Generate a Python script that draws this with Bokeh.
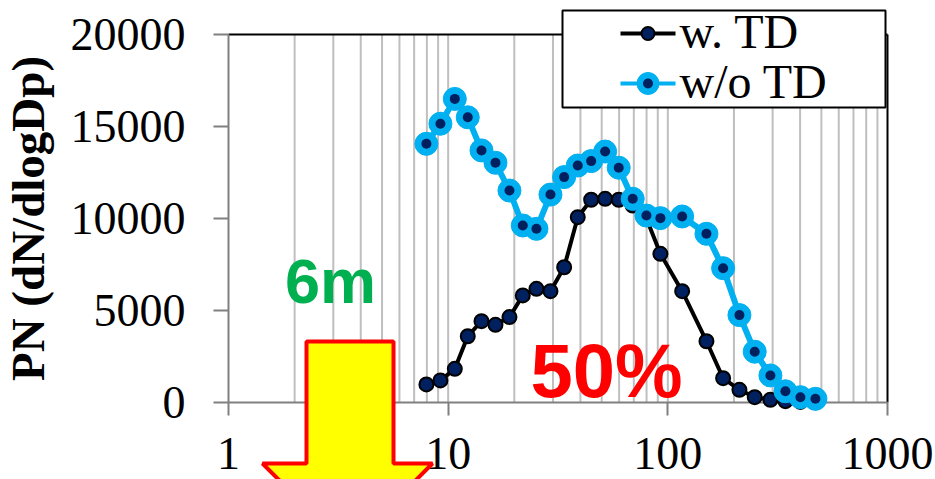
from bokeh.plotting import figure
from bokeh.models import (Range1d, FixedTicker, BasicTickFormatter,
                          PolyAnnotation, Label, BoxAnnotation, LinearAxis, LogAxis)
from bokeh.embed import file_html
from bokeh.resources import INLINE

# Particle diameter (nm) and number size distributions
diameter = [7.96, 9.22, 10.72, 12.28, 14.18, 16.42, 19.01, 21.86, 25.23, 29.22,
            33.73, 38.90, 44.77, 51.83, 59.77, 69.2, 79.9, 92.5, 116.2, 149.9,
            178.5, 211.8, 248.6, 293.1, 343.0, 401.4, 469.7]
pn_with_td = [980, 1200, 1830, 3600, 4420, 4220, 4640, 5820, 6180, 6050,
              7350, 10070, 11020, 11070, 11020, 10700, 10000, 8080, 6050, 3330,
              1320, 690, 290, 150, 70, 30, 10]
pn_without_td = [14060, 15150, 16500, 15500, 13700, 13030, 11520, 9620, 9440, 11300,
                 12250, 12880, 13120, 13640, 12760, 11070, 10160, 10020, 10110, 9170,
                 7300, 4750, 2760, 1470, 610, 290, 200]

series_names = ["w. TD", "w/o TD"]
x_ticks = [1, 10, 100, 1000]
x_tick_labels = ["1", "10", "100", "1000"]
y_ticks = [0, 5000, 10000, 15000, 20000]
y_tick_labels = ["0", "5000", "10000", "15000", "20000"]
x_minor = [m * 10 ** k for k in range(3) for m in range(2, 10)]

NAVY = "#002060"
SKY = "#00B0F0"
SERIF = "Liberation Serif"

# canvas geometry: the plotting frame fills the page, the data box sits inside it
W, H = 935, 479
BOX_L, BOX_R, BOX_T, BOX_B = 228, 887, 34, 402
X_LO, X_HI = 1, 1000
Y_LO, Y_HI = 0, 20000
px_per_decade = (BOX_R - BOX_L) / 3
val_per_px = (Y_HI - Y_LO) / (BOX_B - BOX_T)
x_range = Range1d(10 ** (-BOX_L / px_per_decade), 10 ** ((W - BOX_L) / px_per_decade))
y_range = Range1d(Y_LO - (H - BOX_B) * val_per_px, Y_HI + BOX_T * val_per_px)


def sx_to_x(sx):
    return 10 ** ((sx - BOX_L) / px_per_decade)


def sy_to_y(sy):
    return (BOX_B - sy) * val_per_px


p = figure(width=W, height=H, x_axis_type="log", x_range=x_range, y_range=y_range,
           x_axis_location=None, y_axis_location=None,
           output_backend="svg", toolbar_location=None, min_border=0)
p.title.visible = False
p.outline_line_color = None
p.background_fill_color = "white"
p.border_fill_color = "white"
for g in p.grid:
    g.visible = False

# vertical grid lines inside the data box
grid_x = sorted(x_minor + [10, 100])
p.segment(x0=grid_x, y0=[Y_LO] * len(grid_x), x1=grid_x, y1=[Y_HI] * len(grid_x),
          line_color="#BFBFBF", line_width=2, level="underlay")
# top and right border of the data box
p.segment(x0=[X_LO, X_HI], y0=[Y_HI, Y_LO], x1=[X_HI, X_HI], y1=[Y_HI, Y_HI],
          line_color="black", line_width=2, level="underlay")

# axes pinned to the data box
xaxis = LogAxis(ticker=FixedTicker(ticks=x_ticks), formatter=BasicTickFormatter(),
                major_label_overrides=dict(zip(x_ticks, x_tick_labels)),
                fixed_location=Y_LO, bounds=(X_LO, X_HI))
yaxis = LinearAxis(ticker=FixedTicker(ticks=y_ticks),
                   formatter=BasicTickFormatter(use_scientific=False),
                   major_label_overrides=dict(zip(y_ticks, y_tick_labels)),
                   fixed_location=X_LO, bounds=(Y_LO, Y_HI))
for ax in (xaxis, yaxis):
    ax.level = "underlay"
    ax.axis_line_color = "#808080"
    ax.axis_line_width = 2
    ax.major_tick_line_color = "#808080"
    ax.major_tick_line_width = 2
    ax.major_tick_in = 0
    ax.minor_tick_line_color = None
    ax.major_label_text_font = SERIF
    ax.major_label_text_font_size = "46px"
    ax.major_label_text_color = "black"
xaxis.major_tick_out = 13
xaxis.major_label_standoff = 22
yaxis.major_tick_out = 15
yaxis.major_label_standoff = 28
yaxis.axis_label = "PN (dN/dlogDp)"
yaxis.axis_label_text_font = SERIF
yaxis.axis_label_text_font_style = "bold"
yaxis.axis_label_text_font_size = "47px"
yaxis.axis_label_text_color = "black"
yaxis.axis_label_standoff = 14
p.add_layout(xaxis, "below")
p.add_layout(yaxis, "left")

# legend frame (below the legend glyphs, above grid and border)
p.add_layout(BoxAnnotation(left=562, right=885, bottom=H - 107, top=H - 10,
                           left_units="screen", right_units="screen",
                           bottom_units="screen", top_units="screen",
                           fill_color="white", fill_alpha=1,
                           line_color="black", line_width=2, line_alpha=1,
                           level="underlay"))

# series
p.line(diameter, pn_with_td, line_color="black", line_width=4)
p.scatter(diameter, pn_with_td, size=14, fill_color=NAVY, line_color="black", line_width=2)
p.line(diameter, pn_without_td, line_color=SKY, line_width=6)
p.scatter(diameter, pn_without_td, size=23, fill_color=SKY, line_color=SKY)
p.scatter(diameter, pn_without_td, size=10, fill_color=NAVY, line_color=None)

# legend entries: sample line, marker and label per row
key_x0, key_x1 = sx_to_x(620), sx_to_x(675)
key_xc = sx_to_x(647.5)
row_y = [sy_to_y(33), sy_to_y(83)]
p.segment(x0=[key_x0], y0=[row_y[0]], x1=[key_x1], y1=[row_y[0]], line_color="black", line_width=4)
p.scatter([key_xc], [row_y[0]], size=13, fill_color=NAVY, line_color="black", line_width=2)
p.segment(x0=[key_x0], y0=[row_y[1]], x1=[key_x1], y1=[row_y[1]], line_color=SKY, line_width=4)
p.scatter([key_xc], [row_y[1]], size=22, fill_color=SKY, line_color=SKY)
p.scatter([key_xc], [row_y[1]], size=10, fill_color=NAVY, line_color=None)
for name, base in zip(series_names, [50, 100]):
    p.add_layout(Label(x=679, y=H - base + 19, x_units="screen", y_units="screen", text=name,
                       text_font=SERIF, text_font_size="48px", text_color="black",
                       text_align="left", text_baseline="alphabetic"))

# downward arrow
arrow_x = [306, 393, 393, 432, 347, 262, 306]
arrow_y = [341, 341, 463, 463, 548, 463, 463]
p.add_layout(PolyAnnotation(xs=arrow_x, ys=[H - v for v in arrow_y],
                            xs_units="screen", ys_units="screen",
                            fill_color="#FFFF00", fill_alpha=1,
                            line_color="#FF0000", line_width=4, line_alpha=1))

p.add_layout(Label(x=330, y=H - 305 + 25, x_units="screen", y_units="screen", text="6m",
                   text_font="Liberation Sans", text_font_style="bold",
                   text_font_size="63px", text_color="#00B050",
                   text_align="center", text_baseline="alphabetic"))
p.add_layout(Label(x=606, y=H - 400 + 30, x_units="screen", y_units="screen", text="50%",
                   text_font="Liberation Sans", text_font_style="bold",
                   text_font_size="76px", text_color="#FF0000",
                   text_align="center", text_baseline="alphabetic"))

open("out.html", "w").write(file_html(p, INLINE))
